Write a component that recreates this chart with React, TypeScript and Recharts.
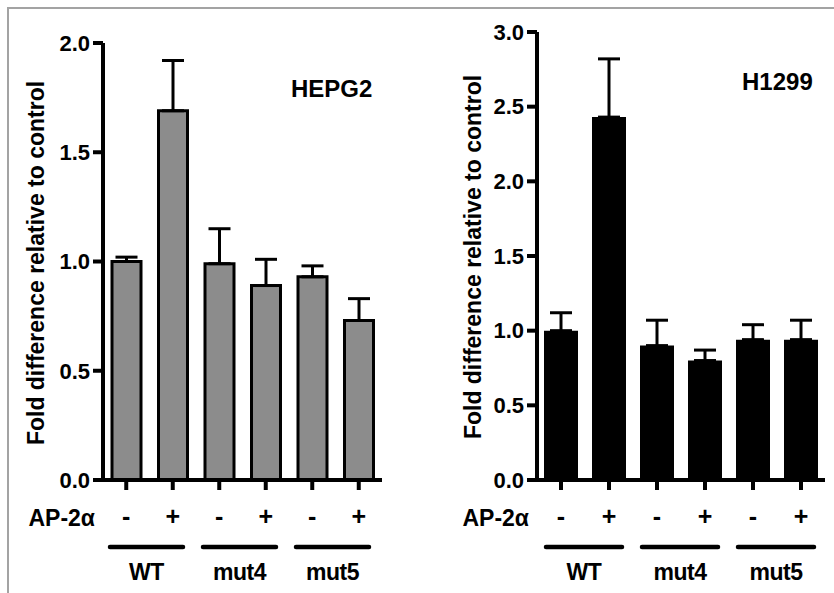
import { Bar, BarChart, ErrorBar, XAxis, YAxis } from "recharts";

const groups = ["WT", "WT", "mut4", "mut4", "mut5", "mut5"];
const signs = ["-", "+", "-", "+", "-", "+"];

const hepg2Mean = [1.0, 1.69, 0.99, 0.89, 0.93, 0.73];
const hepg2Err = [0.02, 0.23, 0.16, 0.12, 0.05, 0.1];

const h1299Mean = [1.0, 2.43, 0.9, 0.8, 0.94, 0.94];
const h1299Err = [0.12, 0.39, 0.17, 0.07, 0.1, 0.13];

const hepg2Ticks = [0, 0.5, 1.0, 1.5, 2.0];
const h1299Ticks = [0, 0.5, 1.0, 1.5, 2.0, 2.5, 3.0];

const FONT = "Arial, 'Liberation Sans', sans-serif";

function buildRows(mean: number[], err: number[]) {
  return mean.map((m, i) => ({
    id: `${groups[i]}${signs[i]}`,
    value: m,
    // only the upper half of the error bar is drawn
    err: [0, err[i]]
  }));
}

const hepg2Data = buildRows(hepg2Mean, hepg2Err);
const h1299Data = buildRows(h1299Mean, h1299Err);

function makeTick(band: number, shift: number) {
  return function GroupTick(props: any) {
    const { x, y, payload } = props;
    const i = payload?.index ?? props.index;
    const axisY = y - 12; // tickSize 10 + tickMargin 2
    const txt = { fontFamily: FONT, fontWeight: "bold" as const, fill: "#000" };
    return (
      <g>
        <text x={x} y={axisY + 45} textAnchor="middle" fontSize={25} {...txt}>
          {signs[i]}
        </text>
        {i === 0 && (
          <text x={x - band / 2 - 8} y={axisY + 46} textAnchor="end" fontSize={23} {...txt}>
            AP-2α
          </text>
        )}
        {i % 2 === 0 && (
          <>
            <line
              x1={x - band / 2 + 10 + shift}
              x2={x + band * 1.5 - 10 + shift}
              y1={axisY + 67}
              y2={axisY + 67}
              stroke="#000"
              strokeWidth={4.5}
              strokeLinecap="round"
            />
            <text
              x={x + band / 2 + shift}
              y={axisY + 100}
              textAnchor="middle"
              fontSize={23}
              letterSpacing={-0.5}
              {...txt}
            >
              {groups[i]}
            </text>
          </>
        )}
      </g>
    );
  };
}

function Panel({
  data,
  ticks,
  title,
  titleX,
  titleY,
  width,
  yAxisWidth,
  top,
  right,
  barSize,
  fill,
  stroke,
  labelX,
  labelY,
  shift
}: {
  data: ReturnType<typeof buildRows>;
  ticks: number[];
  title: string;
  titleX: number;
  titleY: number;
  width: number;
  yAxisWidth: number;
  top: number;
  right: number;
  barSize: number;
  fill: string;
  stroke?: string;
  labelX: number;
  labelY: number;
  shift: number;
}) {
  const height = 593;
  const plotBottom = 480;
  const marginBottom = height - 100 - plotBottom;
  const band = (width - yAxisWidth - right) / data.length;
  return (
    <BarChart
      width={width}
      height={height}
      data={data}
      margin={{ top, right, left: 0, bottom: marginBottom }}
      barCategoryGap={0}
    >
      <XAxis
        dataKey="id"
        height={100}
        interval={0}
        axisLine={{ stroke: "#000", strokeWidth: 4 }}
        tickLine={{ stroke: "#000", strokeWidth: 4 }}
        tickSize={10}
        tickMargin={2}
        tick={makeTick(band, shift)}
      />
      <YAxis
        width={yAxisWidth}
        domain={[0, ticks[ticks.length - 1]]}
        ticks={ticks}
        interval={0}
        tickFormatter={(v: number) => v.toFixed(1)}
        axisLine={{ stroke: "#000", strokeWidth: 4 }}
        tickLine={{ stroke: "#000", strokeWidth: 4 }}
        tickSize={10}
        tickMargin={3}
        tick={{ fill: "#000", fontSize: 22, fontWeight: "bold", fontFamily: FONT }}
      />
      <Bar
        dataKey="value"
        fill={fill}
        stroke={stroke}
        strokeWidth={stroke ? 3 : 0}
        barSize={barSize}
        isAnimationActive={false}
      >
        <ErrorBar
          dataKey="err"
          direction="y"
          width={11}
          stroke="#000"
          strokeWidth={3}
          isAnimationActive={false}
        />
      </Bar>
      <text
        x={titleX}
        y={titleY}
        fontSize={24}
        fontWeight="bold"
        fontFamily={FONT}
        fill="#000"
      >
        {title}
      </text>
      <text
        x={labelX}
        y={labelY}
        transform={`rotate(-90 ${labelX} ${labelY})`}
        textAnchor="middle"
        fontSize={23}
        fontWeight="bold"
        fontFamily={FONT}
        fill="#000"
      >
        Fold difference relative to control
      </text>
    </BarChart>
  );
}

export default function App() {
  return (
    <div
      style={{
        position: "absolute",
        left: 0,
        top: 0,
        width: 834,
        height: 593,
        background: "#fff",
        overflow: "hidden"
      }}
    >
      <div
        style={{
          position: "absolute",
          left: 7,
          top: 7,
          width: 840,
          height: 600,
          borderTop: "2px solid #a3a3a3",
          borderLeft: "2px solid #a3a3a3"
        }}
      />
      <div style={{ position: "absolute", left: 0, top: 0 }}>
        <Panel
          data={hepg2Data}
          ticks={hepg2Ticks}
          title="HEPG2"
          titleX={291}
          titleY={97}
          width={420}
          yAxisWidth={103}
          top={43}
          right={38}
          barSize={29}
          fill="#8c8c8c"
          stroke="#000"
          labelX={44}
          labelY={263}
          shift={-3}
        />
      </div>
      <div style={{ position: "absolute", left: 420, top: 0 }}>
        <Panel
          data={h1299Data}
          ticks={h1299Ticks}
          title="H1299"
          titleX={322}
          titleY={90}
          width={414}
          yAxisWidth={117}
          top={32}
          right={9}
          barSize={34}
          fill="#000"
          labelX={61}
          labelY={257}
          shift={-1}
        />
      </div>
    </div>
  );
}
